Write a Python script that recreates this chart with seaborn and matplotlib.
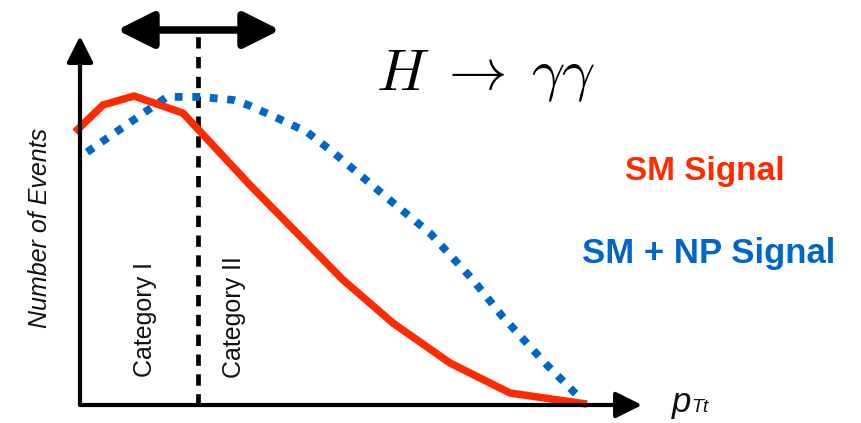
import matplotlib
matplotlib.use("Agg")
import matplotlib.pyplot as plt
import seaborn as sns
import pandas as pd

# Transverse-momentum spectra (arbitrary units)
sm_pt = [-1.0, 4.6, 10.8, 20.6, 34.0, 52.6, 62.6, 74.0, 86.0, 101.4]
sm_events = [91.0, 100.0, 103.0, 97.3, 73.3, 41.7, 27.3, 14.0, 4.0, 0.3]

np_pt = [1.4, 17.4, 24.0, 30.6, 33.6, 39.4, 45.4, 50.6, 62.4, 70.0, 78.6, 84.6, 93.4, 100.4]
np_events = [84.3, 102.7, 102.7, 101.7, 100.0, 95.7, 91.0, 84.3, 67.7, 57.3, 41.7, 29.3, 13.3, 1.7]

category_cut = 23.6
category_labels = ["Category I", "Category II"]
series_labels = ["SM Signal", "SM + NP Signal"]

RED = "#FF2A00"
BLUE = "#0066C8"

sns.set_theme(style="white")
plt.rcParams["font.family"] = ["Liberation Sans", "DejaVu Sans"]

fig = plt.figure(figsize=(8.62, 4.23), dpi=100)
ax = fig.add_axes([0, 0, 1, 1])
ax.set_xlim(-16, 156.4)
ax.set_ylim(-6, 135)
ax.axis("off")

sm = pd.DataFrame({"pt": sm_pt, "events": sm_events})
bsm = pd.DataFrame({"pt": np_pt, "events": np_events})

# Category boundary
ax.plot([category_cut, category_cut], [0, 123.3], color="black", lw=3.4,
        linestyle=(0, (2.4, 1.8)), dash_capstyle="butt", zorder=2)

sns.lineplot(data=sm, x="pt", y="events", sort=False, ax=ax, color=RED,
             lw=5.4, solid_joinstyle="miter", solid_capstyle="butt", zorder=4)
sns.lineplot(data=bsm, x="pt", y="events", sort=False, ax=ax, color=BLUE,
             lw=5.6, linestyle=(0, (1, 1.25)), dash_capstyle="butt", zorder=3)

# Axes drawn as arrows
axis_kw = dict(arrowstyle="-|>,head_length=16,head_width=8", lw=3.0,
               color="black", shrinkA=0, shrinkB=0, mutation_scale=1)
ax.annotate("", xy=(0, 123), xytext=(0, 0), arrowprops=axis_kw, zorder=5)
ax.annotate("", xy=(112.4, 0), xytext=(0, 0), arrowprops=axis_kw, zorder=5)

# Double-headed arrow above the category boundary
dbl_kw = dict(arrowstyle="<|-|>,head_length=22,head_width=11", lw=5.4,
              color="black", shrinkA=0, shrinkB=0, mutation_scale=1)
ax.annotate("", xy=(7.4, 125), xytext=(40.0, 125), arrowprops=dbl_kw, zorder=5)

ax.text(81.2, 105, r"$H\;\rightarrow\;\gamma\gamma$", fontsize=42,
        math_fontfamily="cm", ha="center", va="baseline", color="black")

ax.text(125.0, 75.0, series_labels[0], fontsize=24, fontweight="bold",
        color=RED, ha="center", va="baseline")
ax.text(125.7, 47.3, series_labels[1], fontsize=25, fontweight="bold",
        color=BLUE, ha="center", va="baseline")

ax.text(-8.0, 59.0, "Number of Events", fontsize=18, fontstyle="italic",
        rotation=90, ha="center", va="center", color="#111111")

ax.text(13.0, 9.3, category_labels[0], fontsize=18, rotation=90,
        ha="center", va="bottom", color="#111111")
ax.text(30.8, 9.0, category_labels[1], fontsize=18, rotation=90,
        ha="center", va="bottom", color="#111111")

ax.text(118.4, -2.3, "p", fontsize=25, fontstyle="italic",
        ha="left", va="baseline", color="#111111")
ax.text(122.2, -2.3, "Tt", fontsize=14, fontstyle="italic",
        ha="left", va="baseline", color="#111111")

fig.savefig("out.png", dpi=100)
